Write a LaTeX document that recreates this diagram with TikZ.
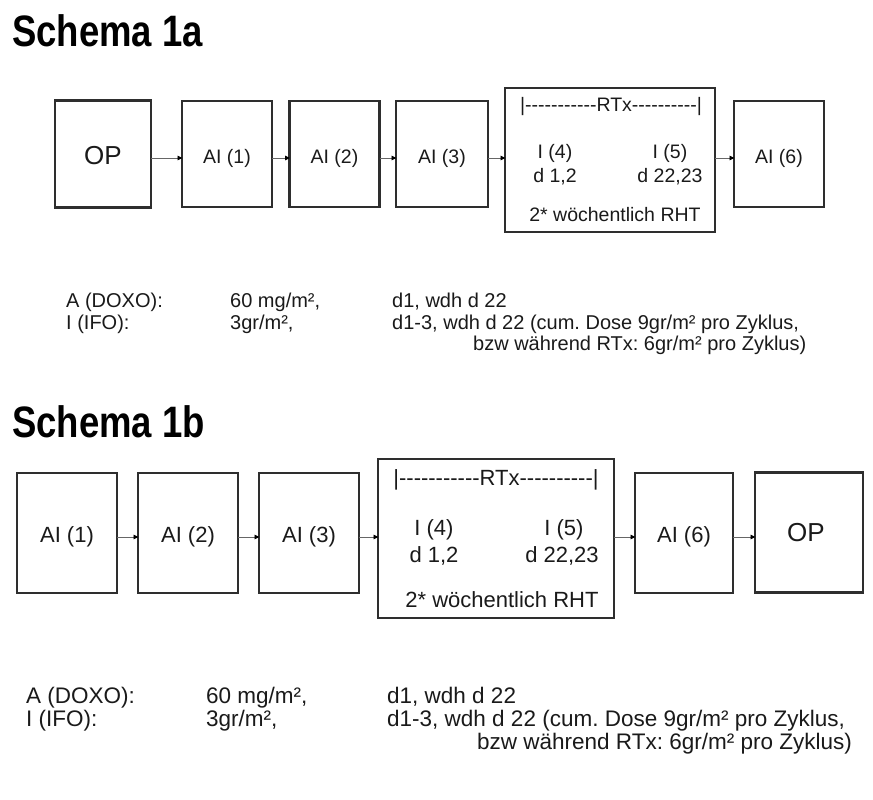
\documentclass[tikz,border=0pt]{standalone}
\usepackage{fontspec}
\usepackage{graphicx}
\setmainfont{Liberation Sans}
\usetikzlibrary{arrows.meta}
\definecolor{boxc}{HTML}{2E2E2E}
\definecolor{arrc}{HTML}{666666}
\definecolor{txt}{HTML}{1A1A1A}
\newcommand\hy{-\kern0pt}
\newcommand\rtxline{|\hy\hy\hy\hy\hy\hy\hy\hy\hy\hy\hy RTx\hy\hy\hy\hy\hy\hy\hy\hy\hy\hy|}
\frenchspacing
\begin{document}
\begin{tikzpicture}[x=1pt,y=-1pt,
  box/.style={draw=boxc, line width=2.1pt, inner sep=0pt, outer sep=0pt},
  sbox/.style={box, minimum width=90pt, minimum height=106pt},
  bbox/.style={box, minimum width=100pt, minimum height=120pt},
  arr/.style={draw=arrc, line width=0.9pt, -{Triangle[length=5pt,width=4.5pt,color=black]}, shorten >=-0.5pt},
  title/.style={font=\fontsize{44}{50}\selectfont\bfseries, text=black, inner sep=0pt, anchor=base west},
  ta/.style={font=\fontsize{19.5}{23}\selectfont, text=txt, inner sep=0pt},
  tb/.style={font=\fontsize{22}{26}\selectfont, text=txt, inner sep=0pt},
  opa/.style={font=\fontsize{26}{30}\selectfont, text=txt, inner sep=0pt},
  la/.style={font=\fontsize{20}{24}\selectfont, text=txt, inner sep=0pt, anchor=base west},
  lb/.style={font=\fontsize{22.5}{26}\selectfont, text=txt, inner sep=0pt, anchor=base west}
]
\fill[white] (0,0) rectangle (873,800);
\useasboundingbox (0,0) rectangle (873,800);

% ---------------- Schema 1a ----------------
\node[title] (tit1) at (12,47) {\scalebox{0.83}[1]{Schema 1a}};

\node[box, minimum width=96pt, minimum height=107pt] (opA) at (103,154) {};
\node[sbox] (a1A) at (227,154) {};
\node[sbox] (a2A) at (334.5,154) {};
\node[sbox, minimum width=92pt] (a3A) at (442,154) {};
\node[box, minimum width=210pt, minimum height=144pt] (rtA) at (610,160) {};
\node[sbox] (a6A) at (779,154) {};

\node[opa] (opAt) at (103,155.5) {OP};
\node[ta] (a1At) at (227,158) {AI (1)};
\node[ta] (a2At) at (334.5,158) {AI (2)};
\node[ta] (a3At) at (442,158) {AI (3)};
\node[ta] (a6At) at (779,158) {AI (6)};

\node[ta] (rlA) at (611,107) {\rtxline};
\node[ta] (i4A) at (555,153) {I (4)};
\node[ta] (d4A) at (555,177) {d 1,2};
\node[ta] (i5A) at (670,153) {I (5)};
\node[ta] (d5A) at (670,177) {d 22,23};
\node[ta] (whA) at (615,215) {2* wöchentlich RHT};

\coordinate (oA0) at ([yshift=-4pt]opA.east);
\coordinate (oA1) at ([yshift=-4pt]a1A.east);
\coordinate (oA2) at ([yshift=-4pt]a2A.east);
\coordinate (oA3) at ([yshift=-4pt]a3A.east);
\coordinate (oA6) at ([yshift=-4pt]a6A.west);
\draw[arr] (oA0) -- (oA0 -| a1A.west);
\draw[arr] (oA1) -- (oA1 -| a2A.west);
\draw[arr] (oA2) -- (oA2 -| a3A.west);
\draw[arr] (oA3) -- (oA3 -| rtA.west);
\draw[arr] (oA6 -| rtA.east) -- (oA6);

\node[la] (lA11) at (66,307) {A (DOXO):};
\node[la] (lA12) at (230,307) {60 mg/m²,};
\node[la] (lA13) at (392,307) {d1, wdh d 22};
\node[la] (lA21) at (66,329) {I (IFO):};
\node[la] (lA22) at (230,329) {3gr/m²,};
\node[la] (lA23) at (392,329) {d1-3, wdh d 22 (cum. Dose 9gr/m² pro Zyklus,};
\node[la] (lA33) at (473,350) {bzw während RTx: 6gr/m² pro Zyklus)};

% ---------------- Schema 1b ----------------
\node[title] (tit2) at (12,437) {\scalebox{0.83}[1]{Schema 1b}};

\node[bbox] (a1B) at (67,533) {};
\node[bbox] (a2B) at (188,533) {};
\node[bbox] (a3B) at (309,533) {};
\node[box, minimum width=236pt, minimum height=159pt] (rtB) at (496,538.5) {};
\node[bbox, minimum width=98pt] (a6B) at (684,533) {};
\node[bbox, minimum width=108pt] (opB) at (809,532.5) {};

\node[tb] (a1Bt) at (67,536.5) {AI (1)};
\node[tb] (a2Bt) at (188,536.5) {AI (2)};
\node[tb] (a3Bt) at (309,536.5) {AI (3)};
\node[tb] (a6Bt) at (684,536.5) {AI (6)};
\node[opa] (opBt) at (806,533) {OP};

\node[tb] (rlB) at (496,480) {\rtxline};
\node[tb] (i4B) at (434,530) {I (4)};
\node[tb] (d4B) at (434,556) {d 1,2};
\node[tb] (i5B) at (564,530) {I (5)};
\node[tb] (d5B) at (562,556) {d 22,23};
\node[tb] (whB) at (502,600) {2* wöchentlich RHT};

\coordinate (oB1) at ([yshift=-4pt]a1B.east);
\coordinate (oB2) at ([yshift=-4pt]a2B.east);
\coordinate (oB3) at ([yshift=-4pt]a3B.east);
\coordinate (oB6) at ([yshift=-4pt]a6B.west);
\coordinate (oB7) at ([yshift=-4pt]a6B.east);
\draw[arr] (oB1) -- (oB1 -| a2B.west);
\draw[arr] (oB2) -- (oB2 -| a3B.west);
\draw[arr] (oB3) -- (oB3 -| rtB.west);
\draw[arr] (oB6 -| rtB.east) -- (oB6);
\draw[arr] (oB7) -- (oB7 -| opB.west);

\node[lb] (lB11) at (26,703) {A (DOXO):};
\node[lb] (lB12) at (206,703) {60 mg/m²,};
\node[lb] (lB13) at (387,703) {d1, wdh d 22};
\node[lb] (lB21) at (26,726) {I (IFO):};
\node[lb] (lB22) at (206,726) {3gr/m²,};
\node[lb] (lB23) at (387,726) {d1-3, wdh d 22 (cum. Dose 9gr/m² pro Zyklus,};
\node[lb] (lB33) at (477,749) {bzw während RTx: 6gr/m² pro Zyklus)};
\end{tikzpicture}
\end{document}
